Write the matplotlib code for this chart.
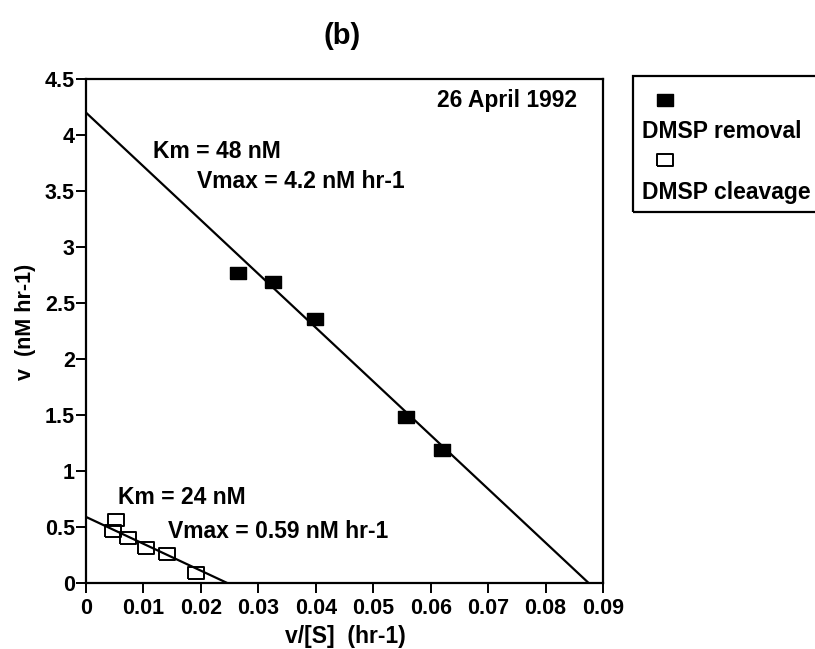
import matplotlib
matplotlib.use("Agg")
import matplotlib.pyplot as plt
from matplotlib.patches import Rectangle
import numpy as np

# Data
removal_x = [0.0265, 0.0326, 0.0399, 0.0557, 0.0620]
removal_y = [2.77, 2.69, 2.36, 1.48, 1.19]
cleavage_x = [0.0052, 0.0047, 0.0073, 0.0105, 0.0141, 0.0192]
cleavage_y = [0.56, 0.46, 0.40, 0.31, 0.26, 0.09]
km_removal, vmax_removal = 48, 4.2
km_cleavage, vmax_cleavage = 24, 0.59
xticks = [0, 0.01, 0.02, 0.03, 0.04, 0.05, 0.06, 0.07, 0.08, 0.09]
xticklabels = ["0", "0.01", "0.02", "0.03", "0.04", "0.05", "0.06", "0.07", "0.08", "0.09"]
yticks = [0, 0.5, 1, 1.5, 2, 2.5, 3, 3.5, 4, 4.5]
yticklabels = ["0", "0.5", "1", "1.5", "2", "2.5", "3", "3.5", "4", "4.5"]

plt.rcParams['font.family'] = ['Liberation Sans', 'DejaVu Sans']
plt.rcParams['font.weight'] = 'bold'
plt.rcParams['axes.labelweight'] = 'bold'
fs_tick = 15.5
fs = 16.5

fig = plt.figure(figsize=(8.15, 6.49), dpi=100)
W, H = 815, 649
ax = fig.add_axes([86 / W, 1 - 583 / H, (603 - 86) / W, (583 - 79) / H])

rect = np.array([(-1, -0.8), (1, -0.8), (1, 0.8), (-1, 0.8), (-1, -0.8)])
ms = 11

# fitted lines (v = Vmax - Km * v/[S])
xr = np.linspace(0, vmax_removal / km_removal, 2)
ax.plot(xr, vmax_removal - km_removal * xr, color='black', lw=1.6, zorder=2)
xc = np.linspace(0, vmax_cleavage / km_cleavage, 2)
ax.plot(xc, vmax_cleavage - km_cleavage * xc, color='black', lw=1.6, zorder=2)

ax.plot(removal_x, removal_y, linestyle='none', marker=rect, ms=ms,
        mfc='black', mec='black', zorder=3)
ax.plot(cleavage_x, cleavage_y, linestyle='none', marker=rect, ms=ms,
        mfc='none', mec='black', mew=1.4, zorder=3)

ax.set_xlim(0, 0.09)
ax.set_ylim(0, 4.5)
ax.set_xticks(xticks)
ax.set_xticklabels(xticklabels)
ax.set_yticks(yticks)
ax.set_yticklabels(yticklabels)
ax.tick_params(direction='out', length=7, width=1.4, labelsize=fs_tick)
ax.tick_params(axis='x', pad=4)
ax.tick_params(axis='y', pad=1)
for s in ax.spines.values():
    s.set_linewidth(1.6)

ax.set_xlabel("v/[S]  (hr-1)", fontsize=fs)
ax.xaxis.set_label_coords(345 / W, 1 - 637 / H, transform=fig.transFigure)
ax.set_ylabel("v  (nM hr-1)", fontsize=15.5)
ax.yaxis.set_label_coords(25 / W, 1 - 322 / H, transform=fig.transFigure)
ax.xaxis.label.set_va('center')
ax.yaxis.label.set_va('center')

def px(x, y):
    return x / W, 1 - y / H

fig.text(*px(342, 36), "(b)", fontsize=21, ha='center', va='center')
fig.text(*px(437, 100), "26 April 1992", fontsize=fs, ha='left', va='center')
fig.text(*px(153, 152), "Km = 48 nM", fontsize=fs, ha='left', va='center')
fig.text(*px(197, 182), "Vmax = 4.2 nM hr-1", fontsize=fs, ha='left', va='center')
fig.text(*px(118, 497), "Km = 24 nM", fontsize=fs, ha='left', va='center')
fig.text(*px(168, 531), "Vmax = 0.59 nM hr-1", fontsize=fs, ha='left', va='center')

# legend box
fig.patches.append(Rectangle(px(633, 212), (830 - 633) / W, (212 - 76) / H,
                             transform=fig.transFigure, fill=False,
                             edgecolor='black', lw=1.6, clip_on=False))
fig.lines.append(plt.Line2D([665 / W], [1 - 100 / H], transform=fig.transFigure,
                            marker=rect, ms=ms, mfc='black', mec='black', ls='none'))
fig.text(*px(642, 132), "DMSP removal", fontsize=fs, ha='left', va='center')
fig.lines.append(plt.Line2D([665 / W], [1 - 160 / H], transform=fig.transFigure,
                            marker=rect, ms=ms, mfc='none', mec='black', mew=1.4, ls='none'))
fig.text(*px(642, 192), "DMSP cleavage", fontsize=fs, ha='left', va='center')

fig.savefig("out.png", dpi=100)
